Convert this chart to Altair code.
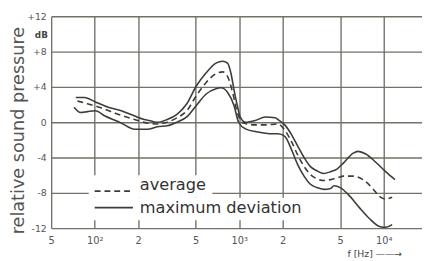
import altair as alt
import pandas as pd

# ---- data ----
freq_max = [74, 85, 101, 124, 153, 189, 221, 250, 271, 317, 371, 434, 505, 591, 691, 770, 830, 875, 920, 970,
            1016, 1104, 1293, 1514, 1772, 1855, 2068, 2301, 2539, 2811, 3097, 3447, 3848, 4288, 4745, 5276,
            6153, 6641, 7517, 8771, 10310, 11960]
db_max = [2.8, 2.8, 2.3, 1.7, 1.3, 0.7, 0.3, 0.1, 0.0, 0.3, 0.9, 2.1, 4.1, 5.6, 6.7, 6.9, 6.7, 5.6, 3.7, 1.9,
          0.6, 0.0, 0.2, 0.6, 0.5, 0.3, -0.3, -1.4, -2.7, -4.0, -5.0, -5.5, -5.8, -5.6, -5.3, -4.6,
          -3.5, -3.3, -3.6, -4.5, -5.6, -6.5]

freq_avg = [76, 89, 112, 145, 189, 232, 271, 317, 371, 434, 505, 591, 691, 770, 830, 900, 970, 1068, 1293, 1514,
            1855, 2068, 2301, 2539, 2811, 3097, 3447, 3848, 4288, 4745, 5276, 6153, 7174, 8380, 9330, 10310, 11440]
db_avg = [2.4, 2.1, 1.6, 0.9, 0.3, -0.1, -0.2, 0.0, 0.5, 1.3, 3.0, 4.5, 5.5, 5.7, 5.2, 3.4, 1.1, -0.1, -0.3, -0.3,
          -0.2, -0.9, -2.2, -3.7, -5.0, -5.9, -6.4, -6.6, -6.5, -6.3, -6.1, -6.1, -6.5, -7.5, -8.4, -8.7, -8.5]

freq_min = [72, 80, 89, 101, 118, 153, 189, 232, 271, 317, 371, 434, 505, 591, 691, 749, 830, 920, 990, 1104,
            1346, 1680, 1855, 2068, 2301, 2539, 2811, 3097, 3447, 3848, 4288, 4524, 5000, 5843, 6810, 7952,
            9330, 10310, 11440]
db_min = [1.7, 1.1, 1.2, 1.3, 0.7, -0.1, -0.8, -0.8, -0.5, -0.4, 0.0, 0.6, 1.9, 3.2, 3.8, 3.9, 3.4, 1.9, 0.0, -0.75,
          -1.1, -1.3, -1.3, -1.6, -3.1, -4.8, -6.1, -7.0, -7.4, -7.6, -7.5, -7.2, -7.4, -8.4, -9.7, -10.9,
          -11.8, -11.9, -11.6]

x_ticks = [50, 100, 200, 500, 1000, 2000, 5000, 10000]
x_tick_labels = ["5", "10²", "2", "5", "10³", "2", "5", "10⁴"]
y_ticks = [-12, -8, -4, 0, 4, 8, 12]
y_tick_labels = ["-12", "-8", "-4", "0", "+4", "+8", "+12"]

legend_labels = ["average", "maximum deviation"]
y_title = "relative sound pressure"
x_title = "f [Hz] ——→"
unit_label = "dB"

# ---- layout constants (positions in data units) ----
legend_line_x = [100, 184]
legend_line_y = [-7.8, -9.67]
legend_text_x = 205
legend_text_y = [-7.65, -10.3]
mask_boxes = pd.DataFrame({
    "f": [91, 91], "f2": [652, 2914],
    "db": [-6.0, -8.56], "db2": [-8.56, -11.1],
})

INK = "#3d3d38"
GRID = "#727269"
FONT = "DejaVu Sans"


def expr_map(values, labels):
    e = "''"
    for v, l in reversed(list(zip(values, labels))):
        e = f"(round(datum.value) == {v}) ? '{l}' : ({e})"
    return e


x_scale = alt.Scale(type="log", domain=[50, 18400], nice=False)
y_scale = alt.Scale(domain=[-12, 12], nice=False)

x_axis = alt.Axis(values=x_ticks, labelExpr=expr_map(x_ticks, x_tick_labels), labelPadding=8,
                  labelFontSize=10, title=None)
y_axis = alt.Axis(values=y_ticks, labelExpr=expr_map(y_ticks, y_tick_labels), labelPadding=5,
                  labelFontSize=9.5, title=y_title)

X = lambda: alt.X("f:Q", scale=x_scale, axis=x_axis)
Y = lambda: alt.Y("db:Q", scale=y_scale, axis=y_axis)

df_max = pd.DataFrame({"f": freq_max, "db": db_max})
df_avg = pd.DataFrame({"f": freq_avg, "db": db_avg})
df_min = pd.DataFrame({"f": freq_min, "db": db_min})

masks = alt.Chart(mask_boxes).mark_rect(fill="white").encode(x=X(), x2="f2:Q", y=Y(), y2="db2:Q")


def curve(df, dash=None):
    kw = dict(color=INK, strokeWidth=1.6, interpolate="monotone")
    if dash:
        kw["strokeDash"] = dash
    return alt.Chart(df).mark_line(**kw).encode(x=X(), y=Y())


c_max = curve(df_max)
c_min = curve(df_min)
c_avg = curve(df_avg, [6, 4])

leg_df_avg = pd.DataFrame({"f": legend_line_x, "db": [legend_line_y[0]] * 2})
leg_df_dev = pd.DataFrame({"f": legend_line_x, "db": [legend_line_y[1]] * 2})
leg_avg = alt.Chart(leg_df_avg).mark_line(color=INK, strokeWidth=1.6, strokeDash=[6, 4]).encode(x=X(), y=Y())
leg_dev = alt.Chart(leg_df_dev).mark_line(color=INK, strokeWidth=1.6).encode(x=X(), y=Y())

leg_text_df = pd.DataFrame({"f": [legend_text_x] * 2, "db": legend_text_y, "t": legend_labels})
leg_text = alt.Chart(leg_text_df).mark_text(align="left", baseline="alphabetic", font=FONT, fontSize=16.5,
                                            color="#333").encode(x=X(), y=Y(), text="t:N")

ann_df = pd.DataFrame({"t": [unit_label]})
db_text = alt.Chart(ann_df).mark_text(align="center", baseline="middle", font=FONT, fontSize=9,
                                      fontWeight="bold", color="#444").encode(
    x=alt.value(-10), y=alt.value(19), text="t:N")

xt_df = pd.DataFrame({"t": [x_title]})
x_title_text = alt.Chart(xt_df).mark_text(align="left", baseline="alphabetic", font=FONT, fontSize=9.5,
                                          color="#444").encode(
    x=alt.value(302), y=alt.value(245), text="t:N")

chart = alt.layer(masks, c_max, c_avg, c_min, leg_avg, leg_dev, leg_text, db_text, x_title_text).properties(
    width=378, height=216,
    autosize=alt.AutoSizeParams(type="none"),
    padding={"left": 44, "top": 6, "right": 0, "bottom": 31},
    background="white",
).configure_view(stroke=None).configure_axis(
    grid=True, ticks=False, domain=False, labelColor="#555", labelFont=FONT,
    gridColor=GRID, gridWidth=1.4, gridOpacity=1, labelFlush=False,
    titleFontSize=18, titleFontWeight="normal", titleColor="#555", titleFont=FONT,
).configure_axisY(
    titleX=-33, titleY=116, titleAngle=270, titleBaseline="middle", titleAlign="center",
)

chart.save("out.html", embed_options={"renderer": "svg", "actions": False})
